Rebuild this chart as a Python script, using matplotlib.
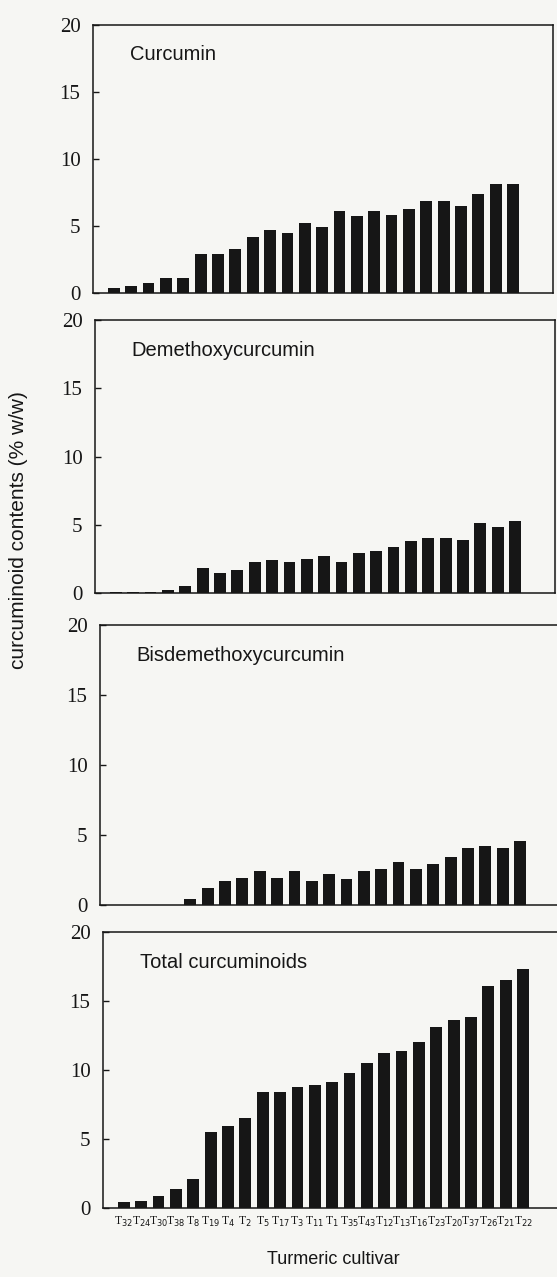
import matplotlib.pyplot as plt
import numpy as np

# Cultivars, ordered by total curcuminoid content
cultivars = ["32", "24", "30", "38", "8", "19", "4", "2", "5", "17", "3", "11",
             "1", "35", "43", "12", "13", "16", "23", "20", "37", "26", "21", "22"]

# Contents in % w/w
curcumin = [0.35, 0.55, 0.75, 1.1, 1.15, 2.9, 2.9, 3.3, 4.15, 4.7, 4.5, 5.2,
            4.9, 6.1, 5.75, 6.1, 5.8, 6.3, 6.85, 6.9, 6.5, 7.4, 8.15, 8.15]
demethoxy = [0.05, 0.05, 0.1, 0.2, 0.5, 1.85, 1.45, 1.65, 2.25, 2.45, 2.3, 2.5,
             2.7, 2.3, 2.9, 3.05, 3.35, 3.8, 4.05, 4.05, 3.9, 5.15, 4.85, 5.25]
bisdemethoxy = [0.0, 0.0, 0.0, 0.0, 0.45, 1.2, 1.7, 1.9, 2.4, 1.9, 2.4, 1.7,
                2.25, 1.85, 2.4, 2.55, 3.05, 2.55, 2.9, 3.45, 4.05, 4.2, 4.05, 4.6]
total = [0.45, 0.5, 0.9, 1.4, 2.1, 5.5, 5.95, 6.55, 8.4, 8.4, 8.75, 8.9,
         9.1, 9.8, 10.5, 11.2, 11.4, 12.05, 13.1, 13.6, 13.85, 16.1, 16.5, 17.3]

panels = [
    ("Curcumin", curcumin),
    ("Demethoxycurcumin", demethoxy),
    ("Bisdemethoxycurcumin", bisdemethoxy),
    ("Total curcuminoids", total),
]

W, H = 557, 1277
fig = plt.figure(figsize=(W / 100, H / 100), dpi=100)
fig.patch.set_facecolor("#f6f6f3")

# axes boxes in pixels: left, top, bottom
boxes = [(93, 25, 293), (95, 320, 593), (100, 625, 905), (103, 932, 1208)]
span = 460  # px for the x range

serif = ["Liberation Serif", "DejaVu Serif"]
sans = ["Liberation Sans", "DejaVu Sans"]
ink = "#161616"

x = np.arange(len(cultivars))
for i, ((title, vals), (l, t, b)) in enumerate(zip(panels, boxes)):
    ax = fig.add_axes([l / W, 1 - b / H, span / W, (b - t) / H])
    ax.set_facecolor("none")
    ax.bar(x, vals, width=0.68, color=ink)
    ax.set_xlim(-1.2, 25.3)
    ax.set_ylim(0, 20)
    ax.set_yticks([0, 5, 10, 15, 20])
    ax.set_yticklabels(["0", "5", "10", "15", "20"], fontfamily=serif, fontsize=15, color=ink)
    ax.tick_params(axis="y", direction="in", length=4, width=1, color=ink, pad=9)
    for s in ax.spines.values():
        s.set_color(ink)
        s.set_linewidth(1.1)
    ax.text(0.08, 0.89, title, transform=ax.transAxes, fontfamily=sans,
            fontsize=14.5, color=ink, va="center", ha="left")
    if i == 3:
        ax.set_xticks(x)
        ax.set_xticklabels(["T$_{%s}$" % c for c in cultivars], fontfamily=serif,
                           fontsize=8.5, color=ink)
        ax.tick_params(axis="x", length=0, pad=5)
        ax.set_xlabel("Turmeric cultivar", fontfamily=sans, fontsize=13,
                      color=ink, labelpad=16)
    else:
        ax.set_xticks([])

fig.text(19 / W, 1 - 530 / H, "curcuminoid contents (% w/w)", rotation=90,
         fontfamily=sans, fontsize=15, color=ink, ha="center", va="center")

fig.savefig("out.png", dpi=100, facecolor=fig.get_facecolor())
